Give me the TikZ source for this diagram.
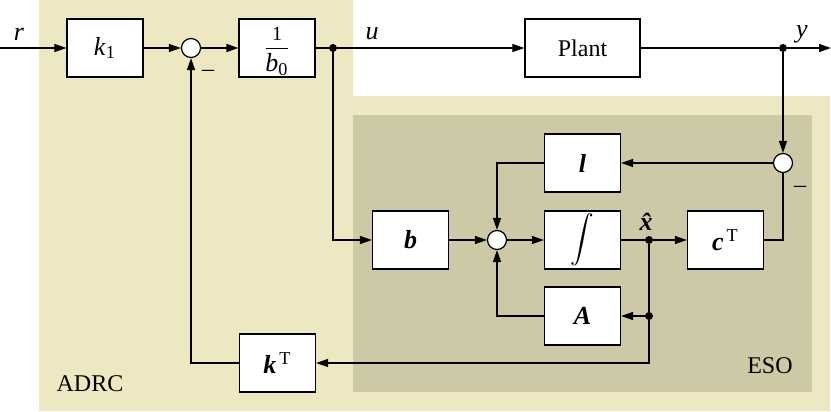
\documentclass[tikz,border=0pt]{standalone}
\usepackage{fontspec}
\setmainfont{Liberation Serif}
\usetikzlibrary{arrows.meta}
\definecolor{adrc}{RGB}{237,232,193}
\definecolor{eso}{RGB}{205,201,166}
\newcommand{\vecb}[1]{\textbf{\textit{#1}}}
\newcommand{\trp}{\textsuperscript{\,T}}
\begin{document}
\begin{tikzpicture}[x=0.5pt,y=-0.5pt,
  every node/.style={font=\fontsize{12}{14}\selectfont},
  mth/.style={font=\fontsize{13}{15}\selectfont},
  blk/.style={draw, fill=white, line width=0.6pt, minimum width=38pt, minimum height=29pt, inner sep=0pt},
  sumc/.style={draw, fill=white, circle, minimum size=9.5pt, inner sep=0pt, line width=0.6pt},
  dot/.style={fill, circle, minimum size=4pt, inner sep=0pt},
  conn/.style={line width=0.6pt},
  arr/.style={conn, -{Triangle[length=6pt,width=4pt]}},
  lbl/.style={inner sep=0pt}]
\useasboundingbox (0,0) rectangle (831,412);
\fill[adrc] (39,0) -- (353,0) -- (353,96) -- (830,96) -- (830,411) -- (39,411) -- cycle;
\fill[eso] (353,115) rectangle (812,392);
% nodes
\coordinate (rin) at (0,48);
\coordinate (yout) at (831,48);
\node[blk, mth] (k1) at (105,48) {\textit{k}\textsubscript{1}};
\node[sumc] (s1) at (191,48) {};
\node[blk] (binv) at (277,48) {};
\node[lbl, font=\fontsize{10}{12}\selectfont] (num) at ([yshift=7.2pt]binv.center) {1};
\node[lbl, mth] (den) at ([yshift=-8.3pt]binv.center) {\textit{b}\textsubscript{0}};
\draw[line width=0.5pt] ([xshift=-5.5pt]binv.center) -- ([xshift=5.5pt]binv.center);
\node[dot] (ju) at (333,48) {};
\node[blk, minimum width=57.5pt] (plant) at (582.5,48) {Plant};
\node[dot] (jy) at (783,48) {};
\node[sumc] (s3) at (783,163) {};
\node[blk, mth] (l) at (582.5,163) {\vecb{l}};
\node[blk] (int) at (582.5,240) {\scalebox{1.18}{$\displaystyle\int$}};
\node[blk, mth] (A) at (582.5,316) {\vecb{A}};
\node[blk, mth] (b) at (410.5,240) {\vecb{b}};
\node[sumc] (s2) at (497,240) {};
\node[dot] (jx) at (649,240) {};
\node[blk, mth] (cT) at (725.5,240) {\vecb{c}\trp};
\node[dot] (jA) at (649,316) {};
\node[blk, mth] (kT) at (277.5,363) {\vecb{k}\trp};
% labels
\node[lbl, mth] (rl) at (19,34) {\textit{r}};
\node[lbl, mth] (ul) at (372,34) {\textit{u}};
\node[lbl, mth] (yl) at (802,34) {\textit{y}};
\node[lbl, mth] (xl) at (649,222) {\vecb{x̂}};
\node[lbl] (m1) at (208,73) {–};
\node[lbl] (m2) at (800,189) {–};
\node[lbl] (adrcl) at (90,384) {ADRC};
\node[lbl] (esol) at (770,366) {ESO};
% connectors
\draw[arr] (rin) -- (k1);
\draw[arr] (k1) -- (s1);
\draw[arr] (s1) -- (binv);
\draw[arr] (binv.east) -- (ju) -- (plant);
\draw[arr] (plant) -- (jy) -- (yout);
\draw[arr] (jy) -- (s3);
\draw[arr] (s3) -- (l);
\draw[arr] (l.west) -| (s2);
\draw[arr] (ju) |- (b);
\draw[arr] (b) -- (s2);
\draw[arr] (s2) -- (int);
\draw[arr] (int) -- (jx) -- (cT);
\draw[conn] (cT.east) -| (s3);
\draw[arr] (jx) -- (jA) -- (A);
\draw[arr] (A.west) -| (s2);
\draw[arr] (jA) |- (kT);
\draw[arr] (kT.west) -| (s1);
\end{tikzpicture}
\end{document}
